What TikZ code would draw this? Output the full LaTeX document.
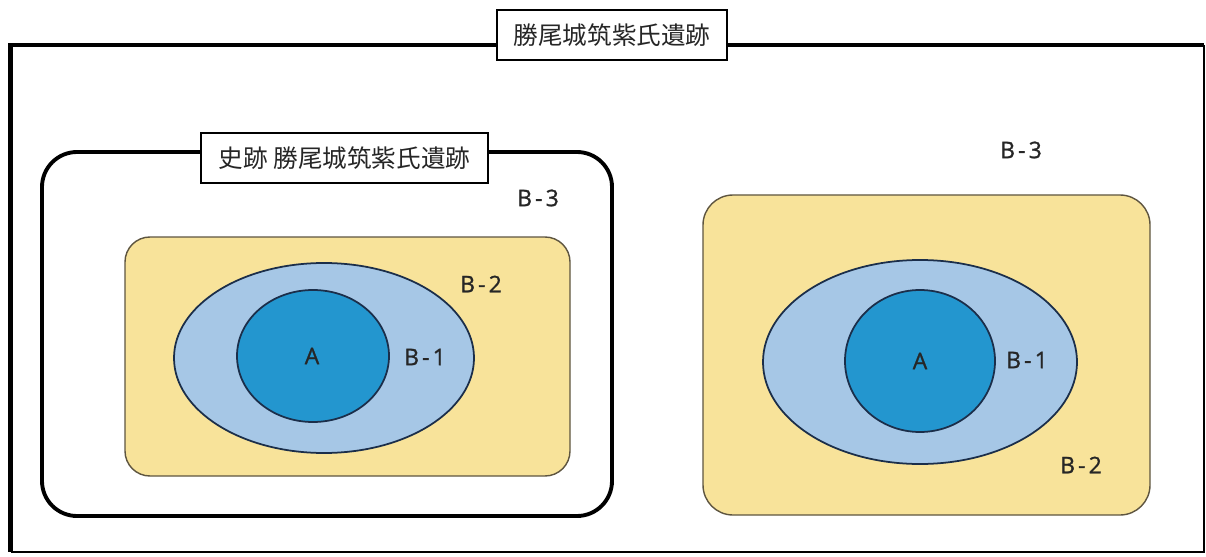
\documentclass[tikz,border=0pt]{standalone}
\usepackage{fontspec}
\setmainfont{Open Sans}
\newfontfamily\jpfont{Noto Sans CJK JP}
\newfontfamily\labfont[LetterSpace=14,FakeBold=1.2]{Open Sans}
\definecolor{zoneY}{HTML}{F8E39A}
\definecolor{zoneLB}{HTML}{A6C7E6}
\definecolor{zoneDB}{HTML}{2396CF}
\definecolor{edgeY}{HTML}{5E5540}
\definecolor{edgeB}{HTML}{1B2E4A}
\tikzset{
  titlebox/.style={draw=black,fill=white,line width=1pt,inner sep=0pt,
    font=\jpfont\fontsize{14}{16}\selectfont,text=black!85},
  zonelab/.style={font=\labfont\fontsize{13}{15}\selectfont,text=black!85}
}
\begin{document}
\begin{tikzpicture}[x=0.02cm,y=-0.02cm]
\useasboundingbox (0,0) rectangle (1206,557);
% outer frame
\draw[line width=2.8pt] (1204,45) -- (10.5,45) -- (10.5,552);
\draw[line width=1.1pt] (10.5,552) -- (1204,552) -- (1204,45);
\node[titlebox,minimum width=4.6cm,minimum height=1cm] (site) at (612,35) {勝尾城筑紫氏遺跡};
% left: historic site
\draw[line width=2.2pt,rounded corners=0.7cm] (42,152) rectangle (612,516);
\node[titlebox,minimum width=5.74cm,minimum height=1cm] (hist) at (344.5,158) {史跡 勝尾城筑紫氏遺跡};
\draw[fill=zoneY,draw=edgeY,line width=0.8pt,rounded corners=0.5cm] (125,237) rectangle (570,476);
\draw[fill=zoneLB,draw=edgeB,line width=1pt] (324,358) ellipse (150 and 95);
\draw[fill=zoneDB,draw=edgeB,line width=1pt] (313,356) ellipse (76 and 66);
\node[zonelab] (lA) at (312,356) {A};
\node[zonelab] (lB1) at (425,357) {B-1};
\node[zonelab] (lB2) at (481,284) {B-2};
\node[zonelab] (lB3) at (538,198) {B-3};
% right: outside the historic site
\draw[fill=zoneY,draw=edgeY,line width=0.8pt,rounded corners=0.6cm] (703,195) rectangle (1150,515);
\draw[fill=zoneLB,draw=edgeB,line width=1pt] (920,362) ellipse (157 and 102);
\draw[fill=zoneDB,draw=edgeB,line width=1pt] (920,361) ellipse (75 and 71);
\node[zonelab] (rA) at (920,361) {A};
\node[zonelab] (rB1) at (1027,360) {B-1};
\node[zonelab] (rB2) at (1081,465) {B-2};
\node[zonelab] (rB3) at (1021,150) {B-3};
\end{tikzpicture}
\end{document}
